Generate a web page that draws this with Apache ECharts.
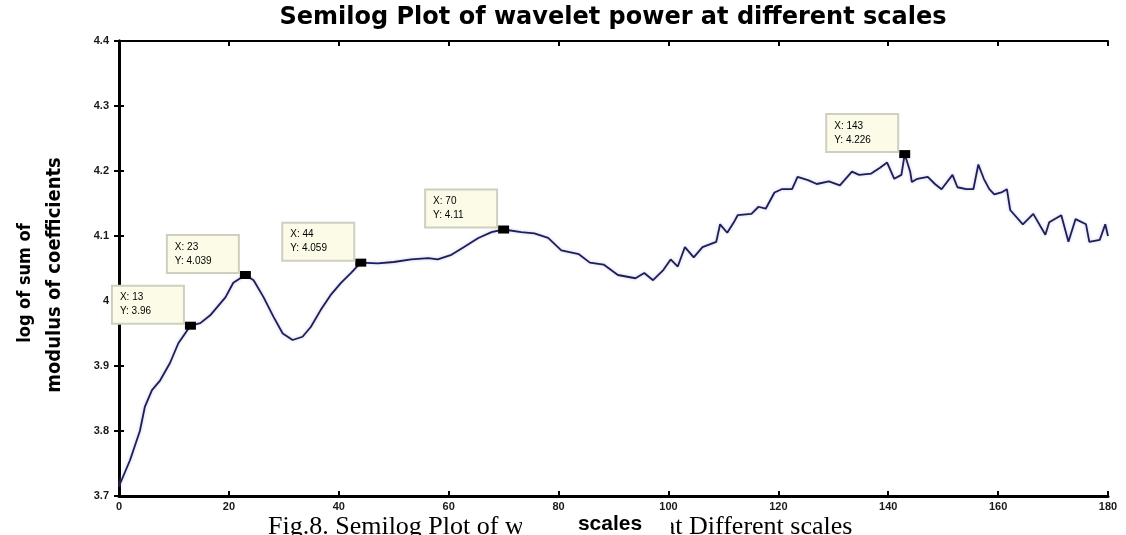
<!DOCTYPE html>
<html>
<head>
<meta charset="utf-8">
<script src="https://cdn.jsdelivr.net/npm/echarts@6/dist/echarts.min.js"></script>
<style>
html,body{margin:0;padding:0;background:#fff;}
#chart{width:1126px;height:535px;}
</style>
</head>
<body>
<div id="chart"></div>
<script>
// ---- data ----
const scales = [0, 2, 3.8, 4.7, 6, 7.5, 9.3, 10.8, 13, 14.8, 16.6, 19.4, 20.8, 23, 24.5, 26.3, 28.1, 29.8, 31.6, 33.4, 34.9, 36.7, 38.5, 40.4, 42.2, 44, 47.1, 50, 53.2, 56.3, 58, 60.5, 62.8, 65.4, 67.8, 70, 73.2, 75.6, 78.1, 80.5, 83.7, 85.7, 88.2, 90.8, 94, 95.6, 97.2, 99.1, 100.4, 101.7, 103, 104.6, 106.2, 108.7, 109.4, 110.7, 111.9, 112.6, 115.1, 116.4, 117.7, 119.3, 120.6, 122.5, 123.5, 125.4, 127, 129.2, 131.2, 133.4, 134.7, 136.9, 138.5, 139.8, 141.1, 142.4, 143, 144, 144.3, 145.3, 147.2, 148.5, 149.7, 151.7, 152.6, 154.2, 155.5, 156.4, 157.4, 158.4, 159.3, 160.6, 161.6, 162.2, 164.5, 166.4, 168.6, 169.3, 171.5, 172.8, 174.1, 176, 176.6, 178.5, 179.5, 180];
const logPower = [3.715, 3.755, 3.80, 3.837, 3.863, 3.878, 3.905, 3.935, 3.962, 3.966, 3.978, 4.006, 4.028, 4.040, 4.032, 4.006, 3.976, 3.950, 3.940, 3.945, 3.960, 3.986, 4.009, 4.028, 4.043, 4.059, 4.058, 4.060, 4.064, 4.066, 4.064, 4.071, 4.083, 4.097, 4.106, 4.110, 4.106, 4.104, 4.097, 4.078, 4.072, 4.059, 4.056, 4.040, 4.035, 4.043, 4.032, 4.048, 4.064, 4.053, 4.083, 4.067, 4.083, 4.091, 4.118, 4.105, 4.121, 4.132, 4.134, 4.145, 4.142, 4.167, 4.172, 4.172, 4.191, 4.186, 4.180, 4.184, 4.178, 4.199, 4.194, 4.196, 4.205, 4.213, 4.188, 4.194, 4.226, 4.199, 4.183, 4.188, 4.191, 4.180, 4.172, 4.194, 4.175, 4.172, 4.172, 4.210, 4.188, 4.172, 4.164, 4.167, 4.172, 4.140, 4.118, 4.134, 4.102, 4.121, 4.132, 4.091, 4.126, 4.118, 4.091, 4.094, 4.118, 4.100];
const markX = [13, 23, 44, 70, 143];
const markY = [3.962, 4.040, 4.059, 4.110, 4.226];
const markXText = ['13', '23', '44', '70', '143'];
const markYText = ['3.96', '4.039', '4.059', '4.11', '4.226'];
const xTicks = {min: 0, max: 180, interval: 20};
const yTicks = {min: 3.7, max: 4.4, interval: 0.1};
const titleText = 'Semilog Plot of wavelet power at different scales';
const xName = 'scales';
const yNameLines = ['log of sum of', 'modulus of coefficients'];
const captionText = 'Fig.8. Semilog Plot of wavelet power at Different scales';

// ---- chart ----
const chart = echarts.init(document.getElementById('chart'), null, {renderer: 'canvas'});
const lineData = scales.map((x, i) => [x, logPower[i]]);
const markData = markX.map((x, i) => ({
  coord: [x, markY[i]],
  value: markY[i],
  label: {formatter: 'X: ' + markXText[i] + '\nY: ' + markYText[i]}
}));

const axisLineStyle = {color: '#000', width: 3};
const tickStyle = {show: true, inside: true, length: 5, lineStyle: {color: '#000', width: 2}};
const labelStyle = {color: '#1a1a1a', fontSize: 11, fontWeight: 'bold', fontFamily: 'Liberation Sans, Arial, sans-serif'};

const option = {
  backgroundColor: '#fff',
  animation: false,
  grid: {left: 119, right: 18, top: 41, bottom: 39, containLabel: false},
  xAxis: [
    {type: 'value', position: 'bottom', min: xTicks.min, max: xTicks.max, interval: xTicks.interval,
     axisLine: {show: true, lineStyle: axisLineStyle}, axisTick: tickStyle, splitLine: {show: false},
     axisLabel: Object.assign({margin: 5}, labelStyle)},
    {type: 'value', position: 'top', min: xTicks.min, max: xTicks.max, interval: xTicks.interval,
     axisLine: {show: true, lineStyle: {color: '#000', width: 2}}, axisTick: tickStyle, splitLine: {show: false},
     axisLabel: {show: false}}
  ],
  yAxis: [
    {type: 'value', position: 'left', min: yTicks.min, max: yTicks.max, interval: yTicks.interval,
     axisLine: {show: true, lineStyle: axisLineStyle}, axisTick: tickStyle, splitLine: {show: false},
     axisLabel: Object.assign({margin: 10, formatter: v => String(parseFloat(v.toFixed(1)))}, labelStyle)},
    {type: 'value', position: 'right', min: yTicks.min, max: yTicks.max, interval: yTicks.interval,
     axisLine: {show: true, lineStyle: axisLineStyle}, axisTick: tickStyle, splitLine: {show: false},
     axisLabel: {show: false}}
  ],
  series: [{
    type: 'line',
    xAxisIndex: 0, yAxisIndex: 0,
    data: lineData,
    showSymbol: false,
    smooth: false,
    lineStyle: {color: '#1e1e5c', width: 1.8, shadowColor: 'rgba(170,170,210,0.7)', shadowBlur: 3},
    markPoint: {
      symbol: 'rect',
      symbolSize: [11, 8],
      itemStyle: {color: '#000'},
      label: {
        show: true,
        position: [-72, -35],
        align: 'left',
        verticalAlign: 'top',
        color: '#000',
        fontSize: 10,
        lineHeight: 14,
        fontFamily: 'Liberation Sans, Arial, sans-serif',
        backgroundColor: '#fbfbe8',
        borderColor: '#cfcfc0',
        borderWidth: 2,
        padding: [4, 7],
        width: 56
      },
      data: markData
    }
  }],
  graphic: [
    {type: 'text', x: 613, y: 18, style: {text: titleText, font: 'bold 24px "DejaVu Sans", sans-serif', fill: '#000', textAlign: 'center', textVerticalAlign: 'middle'}},
    {type: 'text', x: 25, y: 283, rotation: Math.PI / 2, style: {text: yNameLines[0], font: 'bold 18px "Liberation Sans Narrow", "DejaVu Sans Condensed", sans-serif', fill: '#000', textAlign: 'center', textVerticalAlign: 'middle'}},
    {type: 'text', x: 55, y: 275, rotation: Math.PI / 2, style: {text: yNameLines[1], font: 'bold 20px "Liberation Sans Narrow", "DejaVu Sans Condensed", sans-serif', fill: '#000', textAlign: 'center', textVerticalAlign: 'middle'}},
    {type: 'text', x: 268, y: 514, style: {text: captionText, font: '26px "Liberation Serif", "Times New Roman", serif', fill: '#000', textAlign: 'left', textVerticalAlign: 'top'}},
    {type: 'rect', shape: {x: 522, y: 511, width: 149, height: 24}, style: {fill: '#fff'}},
    {type: 'text', x: 610, y: 524, style: {text: xName, font: 'bold 21px "Liberation Sans", Arial, sans-serif', fill: '#000', textAlign: 'center', textVerticalAlign: 'middle'}}
  ]
};
chart.setOption(option);
</script>
</body>
</html>
